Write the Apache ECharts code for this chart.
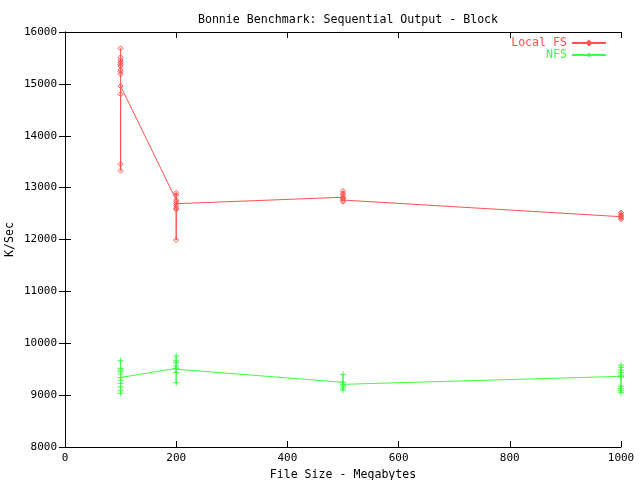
<!DOCTYPE html>
<html><head><meta charset="utf-8">
<script src="https://cdn.jsdelivr.net/npm/echarts@6/dist/echarts.min.js"></script>
<style>html,body{margin:0;padding:0;background:#fff}#c{width:640px;height:480px}</style>
</head><body><div id="c"></div>
<script>
const titleText = 'Bonnie Benchmark: Sequential Output - Block';
const xName = 'File Size - Megabytes';
const yName = 'K/Sec';
const seriesNames = ['Local FS', 'NFS'];
// points per file size, in plotting order
const localX = [100,100,100,100,100,100,100,100,100,100,100,100,100,
                200,200,200,200,200,200,200,200,200,
                500,500,500,500,500,500,500,500,
                1000,1000,1000,1000,1000,1000];
const localY = [15686,15512,15460,15416,15377,15345,15273,15235,15185,14799,13450,13327,14959,
                12761,12902,12858,12729,12646,12601,12582,11990,12690,
                12815,12935,12890,12860,12760,12730,12790,12800,
                12440,12520,12490,12460,12415,12390];
const nfsX = [100,100,100,100,100,100,100,100,100,100,100,
              200,200,200,200,200,200,200,200,
              500,500,500,500,500,500,
              1000,1000,1000,1000,1000,1000,1000,1000,1000,1000,1000];
const nfsY = [9663,9517,9484,9451,9407,9291,9227,9162,9085,9035,9340,
              9517,9754,9663,9624,9561,9440,9239,9500,
              9247,9400,9175,9137,9098,9208,
              9362,9580,9536,9484,9432,9387,9175,9131,9085,9046,9349];
const colors = ['#ff5050', '#40ff40'];
const font = 'DejaVu Sans Mono';

const pair = (xs, ys) => xs.map((x, i) => [x, ys[i]]);
const chart = echarts.init(document.getElementById('c'), null, {renderer: 'canvas'});
const axisCommon = {
  axisLine: {show: true, lineStyle: {color: '#000', width: 1}},
  axisTick: {show: true, inside: true, length: 6, lineStyle: {color: '#000'}},
  splitLine: {show: false}
};
const plain = v => String(v);
chart.setOption({
  animation: false,
  backgroundColor: '#fff',
  title: {text: titleText, left: 343, top: 9, textAlign: 'center',
    textStyle: {fontFamily: font, fontSize: 11.6, fontWeight: 'normal', color: '#000'}},
  legend: {
    orient: 'vertical', right: 33, top: 37, align: 'right', padding: 0,
    itemWidth: 34, itemHeight: 5, itemGap: 0,
    data: [
      {name: seriesNames[0], textStyle: {color: colors[0]}},
      {name: seriesNames[1], textStyle: {color: colors[1]}}
    ],
    textStyle: {fontFamily: font, fontSize: 11.6, lineHeight: 10, padding: 0}
  },
  grid: {left: 65, right: 19, top: 32, bottom: 33, containLabel: false, outerBoundsMode: 'none'},
  xAxis: [
    Object.assign({type: 'value', min: 0, max: 1000, interval: 200, position: 'bottom',
      name: xName, nameLocation: 'middle', nameGap: 22, nameMoveOverlap: false,
      nameTextStyle: {fontFamily: font, fontSize: 11.6, color: '#000'},
      axisLabel: {fontFamily: font, fontSize: 11, color: '#000', margin: 6, formatter: plain}}, axisCommon),
    Object.assign({type: 'value', min: 0, max: 1000, interval: 200, position: 'top',
      axisLabel: {show: false}}, axisCommon)
  ],
  yAxis: [
    Object.assign({type: 'value', min: 8000, max: 16000, interval: 1000, position: 'left',
      name: yName, nameLocation: 'middle', nameGap: 49, nameRotate: 90, nameMoveOverlap: false,
      nameTextStyle: {fontFamily: font, fontSize: 11.6, color: '#000'},
      axisLabel: {fontFamily: font, fontSize: 11, color: '#000', margin: 8, formatter: plain}}, axisCommon),
    Object.assign({type: 'value', min: 8000, max: 16000, interval: 1000, position: 'right',
      axisLabel: {show: false}}, axisCommon)
  ],
  series: [
    {name: seriesNames[0], type: 'line', data: pair(localX, localY),
      symbol: 'path://M5,0L10,5L5,10L0,5Z', symbolSize: 5,
      lineStyle: {color: colors[0], width: 1},
      itemStyle: {color: 'rgba(255,255,255,0)', borderColor: colors[0], borderWidth: 1},
      emphasis: {disabled: true}},
    {name: seriesNames[1], type: 'line', data: pair(nfsX, nfsY),
      symbol: 'path://M0,5L10,5M5,0L5,10', symbolSize: 6,
      lineStyle: {color: colors[1], width: 1},
      itemStyle: {color: colors[1], borderColor: colors[1], borderWidth: 1},
      emphasis: {disabled: true}}
  ]
});
</script></body></html>
